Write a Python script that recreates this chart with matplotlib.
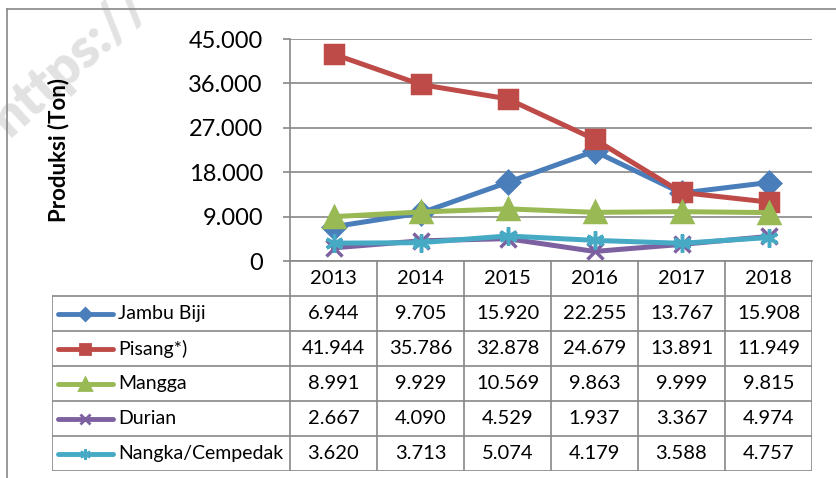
import numpy as np
import matplotlib.pyplot as plt
from matplotlib.lines import Line2D

plt.rcParams['font.family'] = ['Lato', 'DejaVu Sans']

years = ['2013', '2014', '2015', '2016', '2017', '2018']
names = ['Jambu Biji', 'Pisang*)', 'Mangga', 'Durian', 'Nangka/Cempedak']
jambu = [6944, 9705, 15920, 22255, 13767, 15908]
pisang = [41944, 35786, 32878, 24679, 13891, 11949]
mangga = [8991, 9929, 10569, 9863, 9999, 9815]
durian = [2667, 4090, 4529, 1937, 3367, 4974]
nangka = [3620, 3713, 5074, 4179, 3588, 4757]
series = [jambu, pisang, mangga, durian, nangka]

colors = ['#4A7EBB', '#BE4B48', '#98B954', '#7D60A0', '#46AAC5']
markers = ['D', 's', '^', 'x', (6, 2, 0)]
msizes = [11, 13, 14, 11, 13]
grid_c = '#888888'

W, H = 836, 478
fig = plt.figure(figsize=(W / 100, H / 100), dpi=100)

def box(l, t, r, b):
    return [l / W, 1 - b / H, (r - l) / W, (b - t) / H]

# outer chart border
fig.add_artist(Line2D([7 / W, 7 / W], [0, 1 - 9 / H], color=grid_c, lw=1.2))
fig.add_artist(Line2D([7 / W, 1], [1 - 9 / H, 1 - 9 / H], color=grid_c, lw=1.2))

# faint watermark
fig.text(70 / W, 1 - 62 / H, 'https://', rotation=42, fontsize=39, fontweight='heavy',
         color='#e2e2e2', ha='center', va='center', zorder=0)

# main plot
ax = fig.add_axes(box(290, 39, 812, 261))
x = np.arange(len(years))
for s, c, m, ms in zip(series, colors, markers, msizes):
    ax.plot(x, s, color=c, lw=3.6, marker=m, ms=ms, mec=c, mfc=c, mew=2.5,
            solid_joinstyle='round', clip_on=False, zorder=3)
ax.set_xlim(-0.5, 5.5)
ax.set_ylim(0, 45000)
ax.set_yticks(np.arange(0, 45001, 9000))
ax.set_yticklabels([f'{v:,}'.replace(',', '.') for v in range(0, 45001, 9000)], fontsize=17)
ax.set_xticks([])
ax.tick_params(axis='y', length=5, width=1.2, color=grid_c, pad=14.5)
ax.yaxis.grid(True, color=grid_c, lw=1.2)
ax.set_axisbelow(True)
for sp in ['top', 'right']:
    ax.spines[sp].set_visible(False)
for sp in ['left', 'bottom']:
    ax.spines[sp].set_color(grid_c)
    ax.spines[sp].set_linewidth(1.2)
fig.text(59 / W, 1 - 150 / H, 'Produksi (Ton)', rotation=90, fontsize=16,
         fontweight='bold', ha='center', va='center')

# data table
lab_w = (290 - 52) / 87
axt = fig.add_axes(box(52, 261, 812, 471))
axt.set_xlim(-0.5 - lab_w, 5.5)
axt.set_ylim(6, 0)
axt.axis('off')
for k in range(7):
    axt.plot([k - 0.5, k - 0.5], [0, 6], color=grid_c, lw=1.2)
axt.plot([-0.5 - lab_w] * 2, [1, 6], color=grid_c, lw=1.2)
for r in range(1, 7):
    axt.plot([-0.5 - lab_w, 5.5], [r, r], color=grid_c, lw=1.2)
for j, y in enumerate(years):
    axt.text(j, 0.5, y, ha='center', va='center', fontsize=14.5)
for i, (nm, s, c, m, ms) in enumerate(zip(names, series, colors, markers, msizes)):
    row = i + 1.5
    kx0, kx1 = -0.5 - lab_w + 0.07, -0.5 - lab_w + 0.7
    axt.plot([kx0, kx1], [row, row], color=c, lw=3.5, solid_capstyle='round')
    axt.plot([(kx0 + kx1) / 2], [row], color=c, marker=m, ms=ms * 0.6, mec=c, mew=2)
    axt.text(-0.5 - lab_w + 0.76, row, nm, ha='left', va='center', fontsize=14)
    for j, v in enumerate(s):
        axt.text(j, row, f'{v:,}'.replace(',', '.'), ha='center', va='center', fontsize=14.5)

fig.savefig('out.png', dpi=100)
